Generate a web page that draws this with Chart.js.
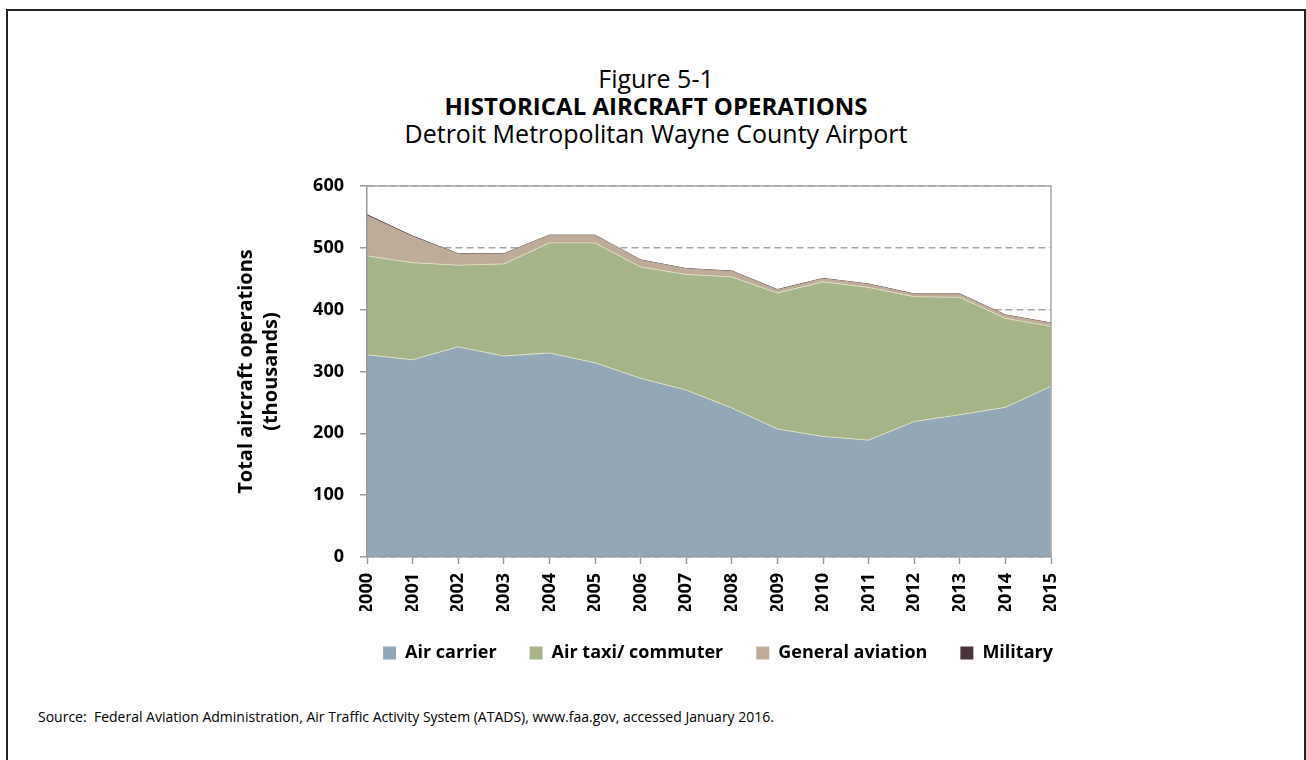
<!DOCTYPE html>
<html>
<head>
<meta charset="utf-8">
<script src="https://cdn.jsdelivr.net/npm/chart.js@4"></script>
<style>
  body { margin: 0; background: #fff; font-family: "Open Sans", sans-serif; }
  #frame { position: absolute; left: 6px; top: 9px; width: 1296px; height: 760px; border: 2px solid #222; }
  .t { position: absolute; left: 6px; width: 1300px; text-align: center; color: #000; font-size: 25px; line-height: 28px; }
  #src { position: absolute; left: 38px; top: 707px; font-size: 14px; line-height: 20px; color: #000; }
  #chartBox { position: absolute; left: 0; top: 0; width: 1306px; height: 760px; }
</style>
</head>
<body>
<div id="frame"></div>
<div class="t" style="top:64px">Figure 5-1</div>
<div class="t" style="top:92px;font-weight:bold;font-size:24px">HISTORICAL AIRCRAFT OPERATIONS</div>
<div class="t" style="top:119px">Detroit Metropolitan Wayne County Airport</div>
<div id="src">Source:&nbsp; Federal Aviation Administration, Air Traffic Activity System (ATADS), www.faa.gov, accessed January 2016.</div>
<div id="chartBox"><canvas id="grafico"></canvas></div>
<script>
// dados (milhares de operacoes)
var anos = ["2000","2001","2002","2003","2004","2005","2006","2007","2008","2009","2010","2011","2012","2013","2014","2015"];
var airCarrier = [327, 319, 340, 325, 330, 314, 289, 270, 241, 207, 195, 189, 219, 230, 242, 276];
var airTaxi = [160, 157, 132, 149, 178, 194, 180, 187, 212, 220, 250, 247, 202, 190, 144, 97];
var generalAviation = [65, 42, 18, 16, 12, 12, 11, 9, 9, 5, 5, 5, 4, 5, 5, 5];
var military = [1.5, 1, 0.5, 0.5, 0.5, 0.5, 0.5, 0.5, 0.5, 0.5, 0.5, 0.5, 0.5, 0.5, 0.5, 0.5];
var yTicks = [0, 100, 200, 300, 400, 500, 600];

var cores = ["#92A8B8", "#A6B588", "#BEAC98", "#48343A"];
var fonte = "'Open Sans', sans-serif";

function serie(nome, dados, cor, linha, fill) {
  return {
    label: nome,
    data: dados,
    backgroundColor: cor,
    borderColor: linha,
    borderWidth: 1,
    fill: fill,
    pointRadius: 0,
    tension: 0,
  };
}

// borda de cima e da direita da area do grafico
var bordaPlot = {
  id: "bordaPlot",
  afterDatasetsDraw: function (chart) {
    var a = chart.chartArea;
    var ctx = chart.ctx;
    ctx.save();
    ctx.strokeStyle = "#A6A6A6";
    ctx.lineWidth = 1.5;
    ctx.beginPath();
    ctx.moveTo(a.left, a.top);
    ctx.lineTo(a.right, a.top);
    ctx.lineTo(a.right, a.bottom);
    ctx.stroke();
    ctx.restore();
  },
};

var el = document.getElementById("grafico");
new Chart(el, {
  type: "line",
  data: {
    labels: anos,
    datasets: [
      serie("Air carrier", airCarrier, cores[0], "rgba(235,235,200,0.8)", "origin"),
      serie("Air taxi/ commuter", airTaxi, cores[1], "rgba(235,230,200,0.8)", "-1"),
      serie("General aviation", generalAviation, cores[2], cores[2], "-1"),
      serie("Military", military, cores[3], cores[3], "-1"),
    ],
  },
  plugins: [bordaPlot],
  options: {
    responsive: true,
    maintainAspectRatio: false,
    animation: false,
    layout: { padding: { left: 130, right: 0, top: 186, bottom: 88 } },
    plugins: {
      tooltip: { enabled: false },
      title: { display: false },
      legend: {
        position: "bottom",
        fullSize: true,
        labels: {
          boxWidth: 13,
          boxHeight: 13,
          padding: 33,
          color: "#000",
          font: { family: fonte, size: 18, weight: "bold" },
          generateLabels: function (chart) {
            return chart.data.datasets.map(function (ds, i) {
              return {
                text: ds.label,
                fillStyle: cores[i],
                strokeStyle: cores[i],
                lineWidth: 0,
                datasetIndex: i,
              };
            });
          },
        },
      },
    },
    scales: {
      x: {
        grid: { drawOnChartArea: false, drawTicks: true, tickLength: 7, color: "#999", tickColor: "#999", tickWidth: 1.5 },
        border: { color: "#999", width: 1.5, z: 1 },
        ticks: {
          minRotation: 90,
          maxRotation: 90,
          padding: 9,
          color: "#000",
          font: { family: fonte, size: 18, weight: "bold" },
        },
        afterFit: function (s) { s.height = 54; },
      },
      y: {
        stacked: true,
        min: 0,
        max: 600,
        afterBuildTicks: function (s) {
          s.ticks = yTicks.map(function (v) { return { value: v }; });
        },
        grid: { color: "#A6A6A6", lineWidth: 1.5, tickLength: 7, tickColor: "#999", tickWidth: 1.5, tickBorderDash: [] },
        border: { color: "#999", width: 1.5, dash: [7, 4], z: 1 },
        ticks: {
          padding: 16,
          color: "#000",
          font: { family: fonte, size: 18, weight: "bold" },
        },
        title: {
          display: true,
          text: ["Total aircraft operations", "(thousands)"],
          color: "#000",
          font: { family: fonte, size: 20, weight: "bold", lineHeight: 1.25 },
          padding: { top: 104, bottom: 0 },
        },
        afterFit: function (s) { s.width = 237; },
      },
      yR: {
        position: "right",
        display: true,
        grid: { display: false },
        border: { display: false },
        ticks: { display: false },
        afterFit: function (s) { s.width = 255; },
      },
    },
  },
});
</script>
</body>
</html>
